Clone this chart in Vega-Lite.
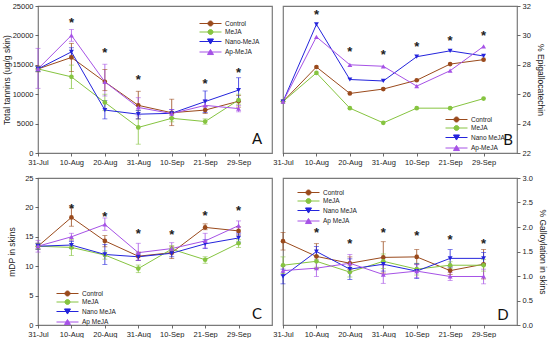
{
 "$schema": "https://vega.github.io/schema/vega-lite/v6.json",
 "padding": {"left": 1, "top": 1, "right": 0, "bottom": 0},
 "bounds": "flush",
 "columns": 2,
 "spacing": {"row": 25, "column": 11},
 "resolve": {"scale": {"color": "independent"}, "legend": {"color": "independent"}},
 "config": {
  "view": {"stroke": "#7a7a7a", "strokeWidth": 1.2},
  "axis": {"labelFont": "Liberation Sans", "labelFontSize": 7.5, "labelColor": "#222", "titleFont": "Liberation Sans", "titleFontSize": 8.5, "titleFontWeight": "normal", "titleColor": "#222", "domain": false, "grid": false, "tickColor": "#444", "tickSize": 3, "tickWidth": 0.8, "labelPadding": 2},
  "legend": {"labelFont": "Liberation Sans", "labelFontSize": 6.5, "labelColor": "#222", "symbolSize": 36, "symbolStrokeWidth": 1, "labelOffset": 3, "padding": 0, "title": null}
 },
 "datasets": {
  "A": [
   {"d":"31-Jul","s":"Control","v":14300,"lo":13800,"hi":14800},
   {"d":"10-Aug","s":"Control","v":16250,"lo":13850,"hi":18650},
   {"d":"20-Aug","s":"Control","v":12100,"lo":10600,"hi":14200},
   {"d":"31-Aug","s":"Control","v":8100,"lo":5800,"hi":10500},
   {"d":"10-Sep","s":"Control","v":6850,"lo":4650,"hi":9150},
   {"d":"21-Sep","s":"Control","v":7300,"lo":6700,"hi":7900},
   {"d":"29-Sep","s":"Control","v":8800,"lo":7800,"hi":9800},
   {"d":"31-Jul","s":"MeJA","v":14300,"lo":13900,"hi":14700},
   {"d":"10-Aug","s":"MeJA","v":12950,"lo":10950,"hi":14950},
   {"d":"20-Aug","s":"MeJA","v":8600,"lo":7200,"hi":10000},
   {"d":"31-Aug","s":"MeJA","v":4350,"lo":1500,"hi":7200},
   {"d":"10-Sep","s":"MeJA","v":5900,"lo":5300,"hi":6500},
   {"d":"21-Sep","s":"MeJA","v":5350,"lo":4900,"hi":5800},
   {"d":"29-Sep","s":"MeJA","v":9000,"lo":8300,"hi":10000},
   {"d":"31-Jul","s":"Nano-MeJA","v":14300,"lo":13900,"hi":14700},
   {"d":"10-Aug","s":"Nano-MeJA","v":17200,"lo":16500,"hi":17900},
   {"d":"20-Aug","s":"Nano-MeJA","v":7300,"lo":5800,"hi":8900},
   {"d":"31-Aug","s":"Nano-MeJA","v":6600,"lo":5800,"hi":7200},
   {"d":"10-Sep","s":"Nano-MeJA","v":6750,"lo":6000,"hi":7400},
   {"d":"21-Sep","s":"Nano-MeJA","v":8750,"lo":6900,"hi":10550},
   {"d":"29-Sep","s":"Nano-MeJA","v":10700,"lo":8800,"hi":12800},
   {"d":"31-Jul","s":"Ap-MeJA","v":14300,"lo":11000,"hi":17800},
   {"d":"10-Aug","s":"Ap-MeJA","v":20000,"lo":19000,"hi":21000},
   {"d":"20-Aug","s":"Ap-MeJA","v":12100,"lo":9700,"hi":15100},
   {"d":"31-Aug","s":"Ap-MeJA","v":7750,"lo":6300,"hi":9400},
   {"d":"10-Sep","s":"Ap-MeJA","v":6700,"lo":6000,"hi":7400},
   {"d":"21-Sep","s":"Ap-MeJA","v":8100,"lo":7200,"hi":9000},
   {"d":"29-Sep","s":"Ap-MeJA","v":7550,"lo":7000,"hi":8100}
  ],
  "B": [
   {"d":"31-Jul","s":"Control","v":25.5},{"d":"10-Aug","s":"Control","v":27.85},{"d":"20-Aug","s":"Control","v":26.05},{"d":"31-Aug","s":"Control","v":26.35},{"d":"10-Sep","s":"Control","v":26.95},{"d":"21-Sep","s":"Control","v":28.05},{"d":"29-Sep","s":"Control","v":28.35},
   {"d":"31-Jul","s":"MeJA","v":25.5},{"d":"10-Aug","s":"MeJA","v":27.45},{"d":"20-Aug","s":"MeJA","v":25.05},{"d":"31-Aug","s":"MeJA","v":24.05},{"d":"10-Sep","s":"MeJA","v":25.05},{"d":"21-Sep","s":"MeJA","v":25.05},{"d":"29-Sep","s":"MeJA","v":25.7},
   {"d":"31-Jul","s":"Nano-MeJA","v":25.5},{"d":"10-Aug","s":"Nano-MeJA","v":30.75},{"d":"20-Aug","s":"Nano-MeJA","v":27.0},{"d":"31-Aug","s":"Nano-MeJA","v":26.9},{"d":"10-Sep","s":"Nano-MeJA","v":28.55},{"d":"21-Sep","s":"Nano-MeJA","v":28.95},{"d":"29-Sep","s":"Nano-MeJA","v":28.6},
   {"d":"31-Jul","s":"Ap-MeJA","v":25.5},{"d":"10-Aug","s":"Ap-MeJA","v":29.9},{"d":"20-Aug","s":"Ap-MeJA","v":28.0},{"d":"31-Aug","s":"Ap-MeJA","v":27.9},{"d":"10-Sep","s":"Ap-MeJA","v":26.55},{"d":"21-Sep","s":"Ap-MeJA","v":27.6},{"d":"29-Sep","s":"Ap-MeJA","v":29.25}
  ],
  "C": [
   {"d":"31-Jul","s":"Control","v":13.4,"lo":12.9,"hi":13.9},
   {"d":"10-Aug","s":"Control","v":18.3,"lo":16.8,"hi":20.0},
   {"d":"20-Aug","s":"Control","v":14.3,"lo":13.3,"hi":15.2},
   {"d":"31-Aug","s":"Control","v":11.7,"lo":11.0,"hi":12.4},
   {"d":"10-Sep","s":"Control","v":12.3,"lo":11.3,"hi":13.3},
   {"d":"21-Sep","s":"Control","v":16.6,"lo":16.2,"hi":17.2},
   {"d":"29-Sep","s":"Control","v":16.0,"lo":15.3,"hi":16.7},
   {"d":"31-Jul","s":"MeJA","v":13.4,"lo":12.9,"hi":13.9},
   {"d":"10-Aug","s":"MeJA","v":13.2,"lo":11.8,"hi":14.5},
   {"d":"20-Aug","s":"MeJA","v":11.9,"lo":11.2,"hi":12.6},
   {"d":"31-Aug","s":"MeJA","v":9.6,"lo":8.9,"hi":10.2},
   {"d":"10-Sep","s":"MeJA","v":12.9,"lo":12.3,"hi":13.5},
   {"d":"21-Sep","s":"MeJA","v":11.1,"lo":10.5,"hi":11.6},
   {"d":"29-Sep","s":"MeJA","v":13.9,"lo":13.2,"hi":14.5},
   {"d":"31-Jul","s":"Nano-MeJA","v":13.4,"lo":12.9,"hi":13.9},
   {"d":"10-Aug","s":"Nano-MeJA","v":13.6,"lo":13.0,"hi":14.2},
   {"d":"20-Aug","s":"Nano-MeJA","v":12.0,"lo":10.3,"hi":13.7},
   {"d":"31-Aug","s":"Nano-MeJA","v":11.6,"lo":11.0,"hi":12.2},
   {"d":"10-Sep","s":"Nano-MeJA","v":12.2,"lo":11.6,"hi":12.8},
   {"d":"21-Sep","s":"Nano-MeJA","v":13.8,"lo":13.0,"hi":14.5},
   {"d":"29-Sep","s":"Nano-MeJA","v":14.8,"lo":14.1,"hi":15.5},
   {"d":"31-Jul","s":"Ap-MeJA","v":13.4,"lo":12.4,"hi":14.4},
   {"d":"10-Aug","s":"Ap-MeJA","v":15.0,"lo":14.4,"hi":15.6},
   {"d":"20-Aug","s":"Ap-MeJA","v":17.1,"lo":16.1,"hi":18.2},
   {"d":"31-Aug","s":"Ap-MeJA","v":12.3,"lo":11.0,"hi":13.9},
   {"d":"10-Sep","s":"Ap-MeJA","v":13.0,"lo":12.1,"hi":14.0},
   {"d":"21-Sep","s":"Ap-MeJA","v":14.3,"lo":13.1,"hi":15.6},
   {"d":"29-Sep","s":"Ap-MeJA","v":16.9,"lo":15.7,"hi":17.7}
  ],
  "D": [
   {"d":"31-Jul","s":"Control","v":1.71,"lo":1.53,"hi":1.89},
   {"d":"10-Aug","s":"Control","v":1.40,"lo":1.15,"hi":1.66},
   {"d":"20-Aug","s":"Control","v":1.26,"lo":1.13,"hi":1.39},
   {"d":"31-Aug","s":"Control","v":1.38,"lo":1.06,"hi":1.70},
   {"d":"10-Sep","s":"Control","v":1.39,"lo":1.24,"hi":1.54},
   {"d":"21-Sep","s":"Control","v":1.11,"lo":1.03,"hi":1.19},
   {"d":"29-Sep","s":"Control","v":1.24,"lo":0.94,"hi":1.54},
   {"d":"31-Jul","s":"MeJA","v":1.22,"lo":1.05,"hi":1.39},
   {"d":"10-Aug","s":"MeJA","v":1.30,"lo":1.18,"hi":1.42},
   {"d":"20-Aug","s":"MeJA","v":1.08,"lo":0.98,"hi":1.18},
   {"d":"31-Aug","s":"MeJA","v":1.30,"lo":1.15,"hi":1.45},
   {"d":"10-Sep","s":"MeJA","v":1.14,"lo":1.02,"hi":1.26},
   {"d":"21-Sep","s":"MeJA","v":1.22,"lo":1.15,"hi":1.29},
   {"d":"29-Sep","s":"MeJA","v":1.22,"lo":1.10,"hi":1.34},
   {"d":"31-Jul","s":"Nano-MeJA","v":0.99,"lo":0.84,"hi":1.14},
   {"d":"10-Aug","s":"Nano-MeJA","v":1.50,"lo":1.40,"hi":1.60},
   {"d":"20-Aug","s":"Nano-MeJA","v":1.14,"lo":0.93,"hi":1.35},
   {"d":"31-Aug","s":"Nano-MeJA","v":1.24,"lo":1.10,"hi":1.38},
   {"d":"10-Sep","s":"Nano-MeJA","v":1.10,"lo":0.95,"hi":1.25},
   {"d":"21-Sep","s":"Nano-MeJA","v":1.36,"lo":1.18,"hi":1.54},
   {"d":"29-Sep","s":"Nano-MeJA","v":1.36,"lo":1.25,"hi":1.48},
   {"d":"31-Jul","s":"Ap-MeJA","v":1.11,"lo":1.02,"hi":1.20},
   {"d":"10-Aug","s":"Ap-MeJA","v":1.16,"lo":0.99,"hi":1.33},
   {"d":"20-Aug","s":"Ap-MeJA","v":1.26,"lo":1.07,"hi":1.44},
   {"d":"31-Aug","s":"Ap-MeJA","v":1.03,"lo":0.85,"hi":1.22},
   {"d":"10-Sep","s":"Ap-MeJA","v":1.10,"lo":0.97,"hi":1.23},
   {"d":"21-Sep","s":"Ap-MeJA","v":0.99,"lo":0.91,"hi":1.07},
   {"d":"29-Sep","s":"Ap-MeJA","v":0.99,"lo":0.84,"hi":1.14}
  ],
  "SA": [{"d":"10-Aug","v":22600},{"d":"20-Aug","v":17500},{"d":"31-Aug","v":12850},{"d":"21-Sep","v":12250},{"d":"29-Sep","v":14150}],
  "SB": [{"d":"10-Aug","v":31.6},{"d":"20-Aug","v":29.1},{"d":"31-Aug","v":28.9},{"d":"10-Sep","v":29.4},{"d":"21-Sep","v":29.85},{"d":"29-Sep","v":30.15}],
  "SC": [{"d":"10-Aug","v":20.3},{"d":"20-Aug","v":18.85},{"d":"31-Aug","v":16.0},{"d":"10-Sep","v":15.9},{"d":"21-Sep","v":19.0},{"d":"29-Sep","v":19.9}],
  "SD": [{"d":"10-Aug","v":1.93},{"d":"20-Aug","v":1.72},{"d":"31-Aug","v":1.93},{"d":"10-Sep","v":1.87},{"d":"21-Sep","v":1.79},{"d":"29-Sep","v":1.72}]
 },
 "concat": [
  {
   "width": 234, "height": 147,
   "data": {"name": "A"},
   "encoding": {
    "x": {"field": "d", "type": "ordinal", "scale": {"type": "point", "padding": 0, "domain": ["31-Jul","10-Aug","20-Aug","31-Aug","10-Sep","21-Sep","29-Sep"," "]}, "axis": {"title": null, "labelAngle": 0, "values": ["31-Jul","10-Aug","20-Aug","31-Aug","10-Sep","21-Sep","29-Sep"]}},
    "y": {"field": "v", "type": "quantitative", "scale": {"domain": [0, 25000], "nice": false}, "axis": {"title": "Total tannins (ug/g skin)", "values": [0,5000,10000,15000,20000,25000], "format": "d", "titlePadding": 1}},
    "color": {"field": "s", "type": "nominal", "scale": {"domain": ["Control","MeJA","Nano-MeJA","Ap-MeJA"], "range": ["#9A4A1C","#86C440","#2424DC","#A652E6"]}, "legend": null}
   },
   "layer": [
    {"mark": {"type": "line", "strokeWidth": 1}, "encoding": {
      "order": {"value": null},
      "color": {"field": "s", "type": "nominal", "scale": {"domain": ["Control","MeJA","Nano-MeJA","Ap-MeJA"], "range": ["#9A4A1C","#86C440","#2424DC","#A652E6"]},
        "legend": {"orient": "none", "legendX": 177, "legendY": 14, "symbolSize": 36, "rowPadding": -0.5,
          "encode": {"symbols": {"update": {
            "shape": {"signal": "datum.value == 'Nano-MeJA' ? 'M-6.33,0H1M-3.67,-0.85L-1.67,-0.85L-2.67,0.85Z' : datum.value == 'Ap-MeJA' ? 'M-6.33,0H1M-3.67,0.85L-1.67,0.85L-2.67,-0.85Z' : 'M-6.33,0H1M-1.84,0A0.83,0.83,0,1,1,-3.5,0A0.83,0.83,0,1,1,-1.84,0Z'"},
            "size": {"value": 36}, "strokeWidth": {"value": 1},
            "fill": {"signal": "datum.value == 'Control' ? '#9A4A1C' : datum.value == 'MeJA' ? '#86C440' : datum.value == 'Nano-MeJA' ? '#2424DC' : '#A652E6'"},
            "stroke": {"signal": "datum.value == 'Control' ? '#9A4A1C' : datum.value == 'MeJA' ? '#86C440' : datum.value == 'Nano-MeJA' ? '#2424DC' : '#A652E6'"}}}}}}}},
    {"mark": {"type": "rule", "strokeWidth": 0.8}, "encoding": {"y": {"field": "lo", "type": "quantitative", "axis": {"title": "Total tannins (ug/g skin)", "values": [0,5000,10000,15000,20000,25000], "format": "d", "titlePadding": 1}}, "y2": {"field": "hi"}}},
    {"mark": {"type": "tick", "size": 5, "thickness": 0.8}, "encoding": {"y": {"field": "lo", "type": "quantitative", "axis": {"title": "Total tannins (ug/g skin)", "values": [0,5000,10000,15000,20000,25000], "format": "d", "titlePadding": 1}}}},
    {"mark": {"type": "tick", "size": 5, "thickness": 0.8}, "encoding": {"y": {"field": "hi", "type": "quantitative", "axis": {"title": "Total tannins (ug/g skin)", "values": [0,5000,10000,15000,20000,25000], "format": "d", "titlePadding": 1}}}},
    {"transform": [{"filter": "datum.s == 'Control' || datum.s == 'MeJA'"}], "mark": {"type": "point", "filled": true, "size": 22, "opacity": 1, "shape": "circle"}},
    {"transform": [{"filter": "datum.s == 'Nano-MeJA'"}], "mark": {"type": "point", "filled": true, "size": 24, "opacity": 1, "shape": "triangle-down"}},
    {"transform": [{"filter": "datum.s == 'Ap-MeJA'"}], "mark": {"type": "point", "filled": true, "size": 24, "opacity": 1, "shape": "triangle-up"}},
    {"data": {"name": "SA"}, "mark": {"type": "text", "text": "*", "font": "Liberation Sans", "fontSize": 13, "fontWeight": "bold", "baseline": "alphabetic", "dy": 7}, "encoding": {"color": {"value": "#222"}}},
    {"data": {"values": [{"d": " ", "v": 2430}]}, "mark": {"type": "text", "text": "A", "font": "Lato", "fontSize": 15, "baseline": "middle", "dx": -15}, "encoding": {"color": {"value": "#111"}}}
   ]
  },
  {
   "width": 234, "height": 147,
   "data": {"name": "B"},
   "encoding": {
    "x": {"field": "d", "type": "ordinal", "scale": {"type": "point", "padding": 0, "domain": ["31-Jul","10-Aug","20-Aug","31-Aug","10-Sep","21-Sep","29-Sep"," "]}, "axis": {"title": null, "labelAngle": 0, "values": ["31-Jul","10-Aug","20-Aug","31-Aug","10-Sep","21-Sep","29-Sep"]}},
    "y": {"field": "v", "type": "quantitative", "scale": {"domain": [22, 32], "nice": false}, "axis": {"orient": "right", "title": "% Epigallocatechin", "values": [22,24,26,28,30,32], "titlePadding": 5}},
    "color": {"field": "s", "type": "nominal", "scale": {"domain": ["Control","MeJA","Nano-MeJA","Ap-MeJA"], "range": ["#9A4A1C","#86C440","#2424DC","#A652E6"]}, "legend": null}
   },
   "layer": [
    {"mark": {"type": "line", "strokeWidth": 1}, "encoding": {
      "order": {"value": null},
      "color": {"field": "s", "type": "nominal", "scale": {"domain": ["Control","MeJA","Nano-MeJA","Ap-MeJA"], "range": ["#9A4A1C","#86C440","#2424DC","#A652E6"]},
        "legend": {"orient": "none", "legendX": 178, "legendY": 110, "symbolSize": 36, "rowPadding": -0.5, "labelExpr": "datum.label == 'Nano-MeJA' ? 'Nano MeJA' : datum.label",
          "encode": {"symbols": {"update": {
            "shape": {"signal": "datum.value == 'Nano-MeJA' ? 'M-6.33,0H1M-3.67,-0.85L-1.67,-0.85L-2.67,0.85Z' : datum.value == 'Ap-MeJA' ? 'M-6.33,0H1M-3.67,0.85L-1.67,0.85L-2.67,-0.85Z' : 'M-6.33,0H1M-1.84,0A0.83,0.83,0,1,1,-3.5,0A0.83,0.83,0,1,1,-1.84,0Z'"},
            "size": {"value": 36}, "strokeWidth": {"value": 1},
            "fill": {"signal": "datum.value == 'Control' ? '#9A4A1C' : datum.value == 'MeJA' ? '#86C440' : datum.value == 'Nano-MeJA' ? '#2424DC' : '#A652E6'"},
            "stroke": {"signal": "datum.value == 'Control' ? '#9A4A1C' : datum.value == 'MeJA' ? '#86C440' : datum.value == 'Nano-MeJA' ? '#2424DC' : '#A652E6'"}}}}}}}},
    {"transform": [{"filter": "datum.s == 'Control' || datum.s == 'MeJA'"}], "mark": {"type": "point", "filled": true, "size": 22, "opacity": 1, "shape": "circle"}},
    {"transform": [{"filter": "datum.s == 'Nano-MeJA'"}], "mark": {"type": "point", "filled": true, "size": 24, "opacity": 1, "shape": "triangle-down"}},
    {"transform": [{"filter": "datum.s == 'Ap-MeJA'"}], "mark": {"type": "point", "filled": true, "size": 24, "opacity": 1, "shape": "triangle-up"}},
    {"data": {"name": "SB"}, "mark": {"type": "text", "text": "*", "font": "Liberation Sans", "fontSize": 13, "fontWeight": "bold", "baseline": "alphabetic", "dy": 7}, "encoding": {"color": {"value": "#222"}}},
    {"data": {"values": [{"d": " ", "v": 22.88}]}, "mark": {"type": "text", "text": "B", "font": "Lato", "fontSize": 15, "baseline": "middle", "dx": -9}, "encoding": {"color": {"value": "#111"}}}
   ]
  },
  {
   "width": 234, "height": 147,
   "data": {"name": "C"},
   "encoding": {
    "x": {"field": "d", "type": "ordinal", "scale": {"type": "point", "padding": 0, "domain": ["31-Jul","10-Aug","20-Aug","31-Aug","10-Sep","21-Sep","29-Sep"," "]}, "axis": {"title": null, "labelAngle": 0, "values": ["31-Jul","10-Aug","20-Aug","31-Aug","10-Sep","21-Sep","29-Sep"]}},
    "y": {"field": "v", "type": "quantitative", "scale": {"domain": [0, 25], "nice": false}, "axis": {"title": "mDP in skins", "values": [0,5,10,15,20,25], "titlePadding": 8}},
    "color": {"field": "s", "type": "nominal", "scale": {"domain": ["Control","MeJA","Nano-MeJA","Ap-MeJA"], "range": ["#9A4A1C","#86C440","#2424DC","#A652E6"]}, "legend": null}
   },
   "layer": [
    {"mark": {"type": "line", "strokeWidth": 1}, "encoding": {
      "order": {"value": null},
      "color": {"field": "s", "type": "nominal", "scale": {"domain": ["Control","MeJA","Nano-MeJA","Ap-MeJA"], "range": ["#9A4A1C","#86C440","#2424DC","#A652E6"]},
        "legend": {"orient": "none", "legendX": 34, "legendY": 112, "symbolSize": 36, "rowPadding": -0.5, "labelExpr": "datum.label == 'MeJA' ? ' MeJA' : datum.label == 'Nano-MeJA' ? 'Nano MeJA' : datum.label == 'Ap-MeJA' ? 'Ap MeJA' : datum.label",
          "encode": {"symbols": {"update": {
            "shape": {"signal": "datum.value == 'Nano-MeJA' ? 'M-6.33,0H1M-3.67,-0.85L-1.67,-0.85L-2.67,0.85Z' : datum.value == 'Ap-MeJA' ? 'M-6.33,0H1M-3.67,0.85L-1.67,0.85L-2.67,-0.85Z' : 'M-6.33,0H1M-1.84,0A0.83,0.83,0,1,1,-3.5,0A0.83,0.83,0,1,1,-1.84,0Z'"},
            "size": {"value": 36}, "strokeWidth": {"value": 1},
            "fill": {"signal": "datum.value == 'Control' ? '#9A4A1C' : datum.value == 'MeJA' ? '#86C440' : datum.value == 'Nano-MeJA' ? '#2424DC' : '#A652E6'"},
            "stroke": {"signal": "datum.value == 'Control' ? '#9A4A1C' : datum.value == 'MeJA' ? '#86C440' : datum.value == 'Nano-MeJA' ? '#2424DC' : '#A652E6'"}}}}}}}},
    {"mark": {"type": "rule", "strokeWidth": 0.8}, "encoding": {"y": {"field": "lo", "type": "quantitative", "axis": {"title": "mDP in skins", "values": [0,5,10,15,20,25], "titlePadding": 8}}, "y2": {"field": "hi"}}},
    {"mark": {"type": "tick", "size": 5, "thickness": 0.8}, "encoding": {"y": {"field": "lo", "type": "quantitative", "axis": {"title": "mDP in skins", "values": [0,5,10,15,20,25], "titlePadding": 8}}}},
    {"mark": {"type": "tick", "size": 5, "thickness": 0.8}, "encoding": {"y": {"field": "hi", "type": "quantitative", "axis": {"title": "mDP in skins", "values": [0,5,10,15,20,25], "titlePadding": 8}}}},
    {"transform": [{"filter": "datum.s == 'Control' || datum.s == 'MeJA'"}], "mark": {"type": "point", "filled": true, "size": 22, "opacity": 1, "shape": "circle"}},
    {"transform": [{"filter": "datum.s == 'Nano-MeJA'"}], "mark": {"type": "point", "filled": true, "size": 24, "opacity": 1, "shape": "triangle-down"}},
    {"transform": [{"filter": "datum.s == 'Ap-MeJA'"}], "mark": {"type": "point", "filled": true, "size": 24, "opacity": 1, "shape": "triangle-up"}},
    {"data": {"name": "SC"}, "mark": {"type": "text", "text": "*", "font": "Liberation Sans", "fontSize": 13, "fontWeight": "bold", "baseline": "alphabetic", "dy": 7}, "encoding": {"color": {"value": "#222"}}},
    {"data": {"values": [{"d": " ", "v": 1.86}]}, "mark": {"type": "text", "text": "C", "font": "Lato", "fontSize": 15, "baseline": "middle", "dx": -15}, "encoding": {"color": {"value": "#111"}}}
   ]
  },
  {
   "width": 234, "height": 147,
   "data": {"name": "D"},
   "encoding": {
    "x": {"field": "d", "type": "ordinal", "scale": {"type": "point", "padding": 0, "domain": ["31-Jul","10-Aug","20-Aug","31-Aug","10-Sep","21-Sep","29-Sep"," "]}, "axis": {"title": null, "labelAngle": 0, "values": ["31-Jul","10-Aug","20-Aug","31-Aug","10-Sep","21-Sep","29-Sep"]}},
    "y": {"field": "v", "type": "quantitative", "scale": {"domain": [0, 3], "nice": false}, "axis": {"orient": "right", "title": "% Galloylation in skins", "values": [0,0.5,1,1.5,2,2.5,3], "format": ".1f", "titlePadding": 5}},
    "color": {"field": "s", "type": "nominal", "scale": {"domain": ["Control","MeJA","Nano-MeJA","Ap-MeJA"], "range": ["#9A4A1C","#86C440","#2424DC","#A652E6"]}, "legend": null}
   },
   "layer": [
    {"mark": {"type": "line", "strokeWidth": 1}, "encoding": {
      "order": {"value": null},
      "color": {"field": "s", "type": "nominal", "scale": {"domain": ["Control","MeJA","Nano-MeJA","Ap-MeJA"], "range": ["#9A4A1C","#86C440","#2424DC","#A652E6"]},
        "legend": {"orient": "none", "legendX": 30, "legendY": 11, "symbolSize": 36, "rowPadding": -0.5, "labelExpr": "datum.label == 'Nano-MeJA' ? 'Nano MeJA' : datum.label == 'Ap-MeJA' ? 'Ap MeJA' : datum.label",
          "encode": {"symbols": {"update": {
            "shape": {"signal": "datum.value == 'Nano-MeJA' ? 'M-6.33,0H1M-3.67,-0.85L-1.67,-0.85L-2.67,0.85Z' : datum.value == 'Ap-MeJA' ? 'M-6.33,0H1M-3.67,0.85L-1.67,0.85L-2.67,-0.85Z' : 'M-6.33,0H1M-1.84,0A0.83,0.83,0,1,1,-3.5,0A0.83,0.83,0,1,1,-1.84,0Z'"},
            "size": {"value": 36}, "strokeWidth": {"value": 1},
            "fill": {"signal": "datum.value == 'Control' ? '#9A4A1C' : datum.value == 'MeJA' ? '#86C440' : datum.value == 'Nano-MeJA' ? '#2424DC' : '#A652E6'"},
            "stroke": {"signal": "datum.value == 'Control' ? '#9A4A1C' : datum.value == 'MeJA' ? '#86C440' : datum.value == 'Nano-MeJA' ? '#2424DC' : '#A652E6'"}}}}}}}},
    {"mark": {"type": "rule", "strokeWidth": 0.8}, "encoding": {"y": {"field": "lo", "type": "quantitative", "axis": {"orient": "right", "title": "% Galloylation in skins", "values": [0,0.5,1,1.5,2,2.5,3], "format": ".1f", "titlePadding": 5}}, "y2": {"field": "hi"}}},
    {"mark": {"type": "tick", "size": 5, "thickness": 0.8}, "encoding": {"y": {"field": "lo", "type": "quantitative", "axis": {"orient": "right", "title": "% Galloylation in skins", "values": [0,0.5,1,1.5,2,2.5,3], "format": ".1f", "titlePadding": 5}}}},
    {"mark": {"type": "tick", "size": 5, "thickness": 0.8}, "encoding": {"y": {"field": "hi", "type": "quantitative", "axis": {"orient": "right", "title": "% Galloylation in skins", "values": [0,0.5,1,1.5,2,2.5,3], "format": ".1f", "titlePadding": 5}}}},
    {"transform": [{"filter": "datum.s == 'Control' || datum.s == 'MeJA'"}], "mark": {"type": "point", "filled": true, "size": 22, "opacity": 1, "shape": "circle"}},
    {"transform": [{"filter": "datum.s == 'Nano-MeJA'"}], "mark": {"type": "point", "filled": true, "size": 24, "opacity": 1, "shape": "triangle-down"}},
    {"transform": [{"filter": "datum.s == 'Ap-MeJA'"}], "mark": {"type": "point", "filled": true, "size": 24, "opacity": 1, "shape": "triangle-up"}},
    {"data": {"name": "SD"}, "mark": {"type": "text", "text": "*", "font": "Liberation Sans", "fontSize": 13, "fontWeight": "bold", "baseline": "alphabetic", "dy": 7}, "encoding": {"color": {"value": "#222"}}},
    {"data": {"values": [{"d": " ", "v": 0.21}]}, "mark": {"type": "text", "text": "D", "font": "Lato", "fontSize": 15, "baseline": "middle", "dx": -14}, "encoding": {"color": {"value": "#111"}}}
   ]
  }
 ]
}
